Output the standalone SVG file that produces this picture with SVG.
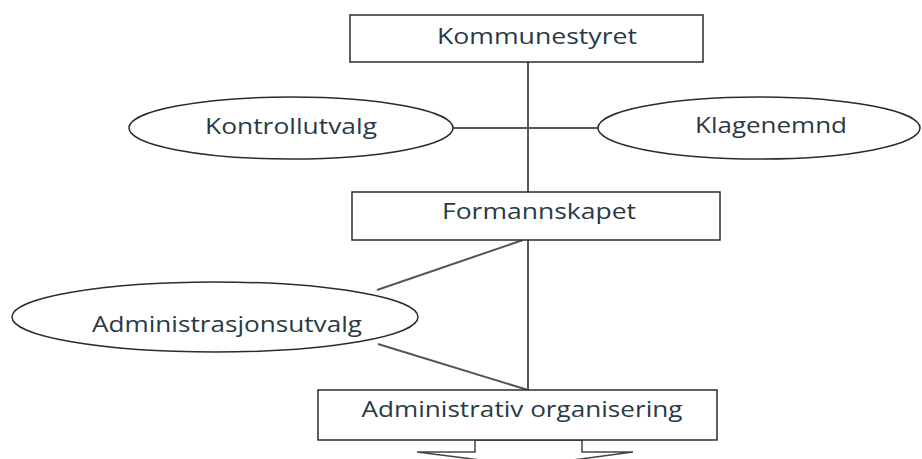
<svg xmlns="http://www.w3.org/2000/svg" width="922" height="459" viewBox="0 0 922 459">
<style>
.box{fill:#fff;stroke:#2b2b2b;stroke-width:1.5}
.ell{fill:#fff;stroke:#2b2b2b;stroke-width:1.5}
.lbl{font-family:"Open Sans",sans-serif;font-size:21px;fill:#2a3a44;text-anchor:middle}
.con{stroke:#555;stroke-width:2;fill:none}
</style>
<rect width="922" height="459" fill="#fff"/>
<g id="connectors">
<line class="con" x1="528" y1="62" x2="528" y2="390"/>
<line class="con" x1="453" y1="128" x2="598" y2="128"/>
<line class="con" x1="523" y1="240" x2="377" y2="290"/>
<line class="con" x1="378" y1="344" x2="528" y2="390"/>
</g>
<g id="arrow">
<polygon points="475,440 475,452 417,452 528,466 633,452 582,452 582,440" fill="#fff" stroke="#444" stroke-width="1.5"/>
</g>
<g id="kommunestyret">
<rect class="box" x="350" y="15" width="353" height="47"/>
<text class="lbl" x="537" y="44" textLength="200" lengthAdjust="spacingAndGlyphs">Kommunestyret</text>
</g>
<g id="kontrollutvalg">
<ellipse class="ell" cx="291" cy="128" rx="162" ry="31"/>
<text class="lbl" x="291" y="134" textLength="172" lengthAdjust="spacingAndGlyphs">Kontrollutvalg</text>
</g>
<g id="klagenemnd">
<ellipse class="ell" cx="759" cy="128" rx="161" ry="31"/>
<text class="lbl" x="771" y="133" textLength="152" lengthAdjust="spacingAndGlyphs">Klagenemnd</text>
</g>
<g id="formannskapet">
<rect class="box" x="352" y="192" width="368" height="48"/>
<text class="lbl" x="539" y="219" textLength="194" lengthAdjust="spacingAndGlyphs">Formannskapet</text>
</g>
<g id="administrasjonsutvalg">
<ellipse class="ell" cx="215" cy="317" rx="203" ry="35"/>
<text class="lbl" x="227" y="332" textLength="270" lengthAdjust="spacingAndGlyphs">Administrasjonsutvalg</text>
</g>
<g id="administrativ">
<rect class="box" x="318" y="390" width="399" height="50"/>
<text class="lbl" x="522" y="417" textLength="321" lengthAdjust="spacingAndGlyphs">Administrativ organisering</text>
</g>
</svg>
